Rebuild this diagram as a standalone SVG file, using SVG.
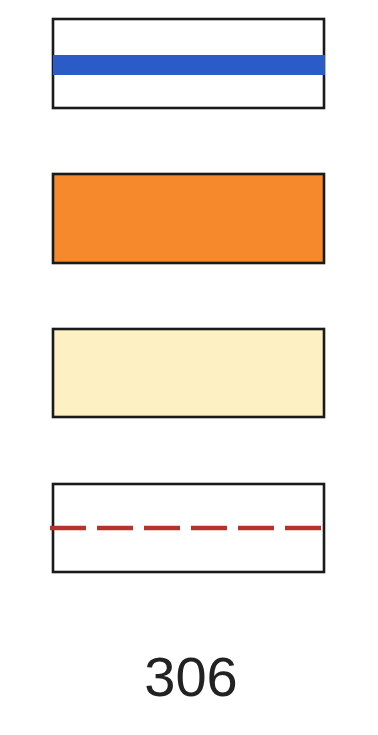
<svg xmlns="http://www.w3.org/2000/svg" width="378" height="735" viewBox="0 0 378 735">
<style>
.box{stroke:#1a1a1a;stroke-width:2.6}
.lbl{font-family:"Liberation Sans",Arial,sans-serif;font-size:56px;fill:#222}
</style>
<rect width="378" height="735" fill="#fff"/>
<g id="blue-line">
<rect class="box" x="53" y="19" width="271" height="89" fill="#fff"/>
<rect x="53" y="55" width="272" height="20" fill="#2a5bc6"/>
</g>
<g id="orange-fill">
<rect class="box" x="53" y="174" width="271" height="89" fill="#f5892c"/>
</g>
<g id="cream-fill">
<rect class="box" x="53" y="329" width="271" height="88" fill="#fdf1c4"/>
</g>
<g id="red-dashed">
<rect class="box" x="53" y="484" width="271" height="88" fill="#fff"/>
<line x1="50" y1="528" x2="325" y2="528" stroke="#b8322c" stroke-width="4.5" stroke-dasharray="36 11"/>
</g>
<text class="lbl" x="191" y="696" text-anchor="middle">306</text>
</svg>
